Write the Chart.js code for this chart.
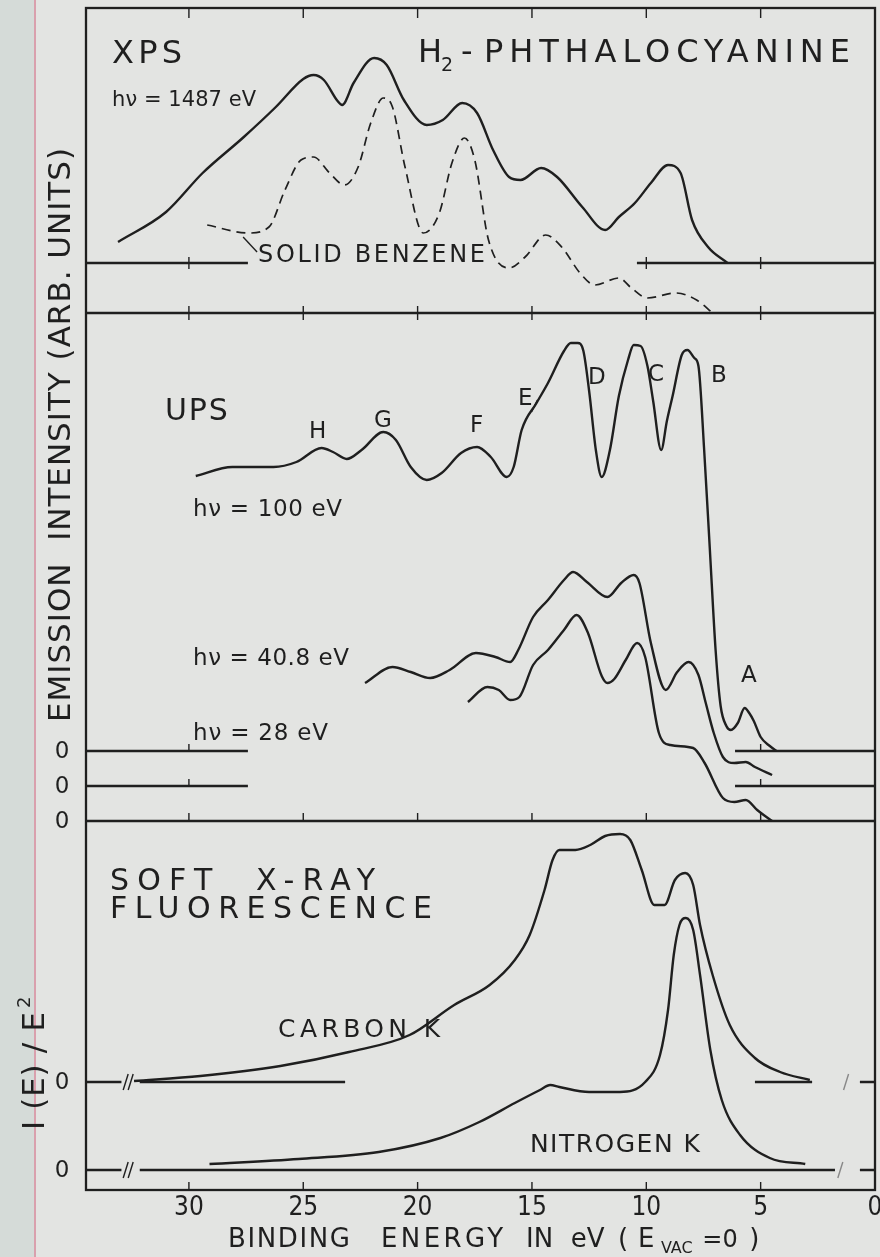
<!DOCTYPE html>
<html>
<head>
<meta charset="utf-8">
<script src="https://cdn.jsdelivr.net/npm/chart.js@4.4.1/dist/chart.umd.min.js"></script>
<style>
  html, body { margin: 0; padding: 0; background: #e3e4e2; }
  canvas { display: block; }
</style>
</head>
<body>
<canvas id="graphique" width="880" height="1257"></canvas>
<script>
// binding energy in eV, intensity in arb. units above each curve's own zero line
const xpsEnergy    = [33.1, 31.0, 29.4, 27.6, 26.2, 25.0, 24.55, 24.1, 23.5, 23.3, 22.8, 21.9, 21.35, 20.6, 19.6, 18.9, 18.05, 17.4, 16.7, 16.0, 15.5, 14.6, 13.9, 12.8, 11.8, 11.2, 10.5, 9.8, 9.05, 8.5, 8.0, 7.3, 6.45];
const xpsIntensity = [21, 51, 90, 126, 156, 184, 188, 183, 162, 158, 180, 205, 198, 163, 138, 143, 160, 150, 113, 86, 83, 95, 86, 56, 33, 46, 60, 80, 98, 90, 43, 16, 0];

const benzeneEnergy    = [29.2, 27.4, 26.5, 25.8, 25.1, 24.55, 23.85, 23.2, 22.6, 22.05, 21.5, 21.1, 20.55, 19.75, 19.05, 18.5, 17.95, 17.5, 16.9, 16.0, 15.3, 14.4, 13.7, 12.9, 12.25, 11.2, 10.65, 9.95, 8.7, 7.8, 7.1];
const benzeneIntensity = [88, 80, 86, 123, 153, 156, 140, 128, 146, 190, 215, 206, 146, 80, 100, 150, 175, 153, 73, 45, 56, 78, 66, 40, 28, 35, 25, 15, 20, 13, 0];

const ups100Energy    = [29.7, 28.1, 26.3, 25.3, 24.2, 23.7, 23.1, 22.45, 21.5, 20.95, 20.3, 19.6, 18.95, 18.1, 17.4, 16.8, 16.1, 15.8, 15.45, 14.8, 14.3, 13.6, 13.3, 13.0, 12.75, 12.5, 12.2, 11.95, 11.6, 11.2, 10.8, 10.55, 10.25, 9.95, 9.7, 9.35, 9.1, 8.85, 8.45, 8.2, 7.9, 7.72, 7.47, 7.22, 6.97, 6.75, 6.5, 6.3, 6.0, 5.7, 5.5, 5.3, 5.0, 4.6, 4.3];
const ups100Intensity = [275, 284, 284, 289, 303, 299, 292, 301, 319, 311, 284, 271, 278, 298, 304, 294, 274, 284, 321, 348, 368, 400, 408, 408, 400, 360, 300, 274, 300, 355, 391, 406, 405, 385, 350, 301, 330, 355, 396, 401, 393, 385, 301, 201, 101, 45, 25, 21, 28, 43, 38, 30, 14, 5, 0];

const ups408Energy    = [22.3, 21.1, 20.3, 19.45, 18.6, 17.45, 16.6, 15.95, 15.6, 14.95, 14.3, 13.6, 13.2, 12.6, 11.7, 11.1, 10.55, 10.3, 9.8, 9.15, 8.65, 8.15, 7.72, 7.4, 7.05, 6.65, 6.15, 5.65, 5.25, 4.5];
const ups408Intensity = [103, 119, 114, 108, 116, 133, 129, 124, 136, 169, 186, 206, 214, 204, 189, 203, 211, 203, 143, 96, 114, 124, 111, 83, 53, 29, 23, 24, 19, 11];

const ups28Energy    = [17.8, 16.95, 16.45, 15.95, 15.55, 14.95, 14.3, 13.6, 13.05, 12.55, 11.95, 11.7, 11.4, 10.9, 10.4, 10.05, 9.45, 8.95, 7.95, 7.45, 6.65, 6.15, 5.65, 5.15, 4.5];
const ups28Intensity = [119, 134, 131, 121, 124, 156, 171, 191, 206, 188, 145, 138, 142, 161, 178, 164, 88, 76, 73, 58, 23, 19, 21, 11, 0];

const carbonEnergy    = [32.4, 29.5, 26.0, 23.0, 20.35, 18.4, 16.85, 15.75, 15.1, 14.45, 14.1, 13.8, 13.1, 12.45, 11.8, 11.15, 10.7, 10.2, 9.65, 9.2, 8.75, 8.3, 7.95, 7.65, 7.1, 6.35, 5.25, 4.15, 2.85];
const carbonIntensity = [1, 6, 16, 30, 47, 77, 97, 122, 147, 192, 222, 232, 232, 237, 246, 248, 242, 212, 177, 177, 202, 209, 197, 157, 107, 57, 24, 10, 2];

const nitrogenEnergy    = [29.1, 25.2, 21.7, 19.0, 17.3, 15.75, 14.65, 14.2, 13.8, 12.5, 11.15, 10.05, 9.4, 9.05, 8.8, 8.55, 8.27, 7.95, 7.65, 7.2, 6.7, 5.9, 4.6, 3.05];
const nitrogenIntensity = [6, 11, 18, 32, 48, 67, 80, 85, 83, 78, 78, 88, 115, 160, 215, 245, 252, 240, 195, 120, 70, 35, 12, 6];

const tickValues = [30, 25, 20, 15, 10, 5, 0];

// where each curve's zero sits on the stacked intensity axis
const zero = { xps: 927, benzene: 877, ups100: 439, ups408: 404, ups28: 369, carbon: 108, nitrogen: 20 };

// drawn stretches of each zero line, in eV
const zeroStretches = [
  [zero.xps, 34.5, 27.42], [zero.xps, 10.41, 0],
  [zero.benzene, 34.5, 0],
  [zero.ups100, 34.5, 27.42], [zero.ups100, 6.12, 0],
  [zero.ups408, 34.5, 27.42], [zero.ups408, 6.12, 0],
  [zero.ups28, 34.5, 0],
  [zero.carbon, 34.5, 32.95], [zero.carbon, 32.15, 23.17], [zero.carbon, 5.25, 2.75], [zero.carbon, 0.66, 0],
  [zero.nitrogen, 34.5, 32.95], [zero.nitrogen, 32.15, 1.75], [zero.nitrogen, 0.66, 0]
];

const INK = '#1f1f1f';
const FONT = '"DejaVu Sans", sans-serif';

function curve(energy, intensity, base) {
  return energy.map((e, i) => ({ x: e, y: base + intensity[i] }));
}

function line(data, dashed, width) {
  return {
    data: data,
    showLine: true,
    borderColor: INK,
    borderWidth: width || 2.4,
    borderDash: dashed ? [9, 6] : [],
    pointRadius: 0,
    cubicInterpolationMode: 'monotone',
    fill: false
  };
}

const datasets = [
  line(curve(xpsEnergy, xpsIntensity, zero.xps)),
  line(curve(benzeneEnergy, benzeneIntensity, zero.benzene), true, 1.7),
  line(curve(ups100Energy, ups100Intensity, zero.ups100)),
  line(curve(ups408Energy, ups408Intensity, zero.ups408)),
  line(curve(ups28Energy, ups28Intensity, zero.ups28)),
  line(curve(carbonEnergy, carbonIntensity, zero.carbon)),
  line(curve(nitrogenEnergy, nitrogenIntensity, zero.nitrogen))
];
zeroStretches.forEach(s => {
  const d = line([{ x: s[1], y: s[0] }, { x: s[2], y: s[0] }], false, 2.5);
  d.cubicInterpolationMode = 'default';
  d.tension = 0;
  datasets.push(d);
});

// text placed in (eV, stacked-axis) coordinates; w = target width, 0 = natural
const labels = [
  { t: 'XPS', e: 33.36, v: 1127, s: 32, w: 70 },
  { t: 'hν = 1487 eV', e: 33.36, v: 1084, s: 21, w: 144 },
  { t: 'H', e: 19.98, v: 1128, s: 32, w: 0 },
  { t: '2', e: 18.98, v: 1119, s: 19, w: 0 },
  { t: '-', e: 18.1, v: 1128, s: 32, w: 0 },
  { t: 'PHTHALOCYANINE', e: 17.1, v: 1128, s: 32, w: 366 },
  { t: 'SOLID BENZENE', e: 26.98, v: 928, s: 24, w: 227 },
  { t: 'UPS', e: 31.05, v: 770, s: 30, w: 63 },
  { t: 'H', e: 24.75, v: 752, s: 23, w: 0 },
  { t: 'G', e: 21.91, v: 763, s: 23, w: 0 },
  { t: 'F', e: 17.71, v: 758, s: 23, w: 0 },
  { t: 'E', e: 15.61, v: 785, s: 23, w: 0 },
  { t: 'D', e: 12.55, v: 806, s: 23, w: 0 },
  { t: 'C', e: 9.93, v: 809, s: 23, w: 0 },
  { t: 'B', e: 7.17, v: 808, s: 23, w: 0 },
  { t: 'A', e: 5.86, v: 508, s: 23, w: 0 },
  { t: 'hν = 100 eV', e: 29.82, v: 674, s: 23, w: 149 },
  { t: 'hν = 40.8 eV', e: 29.82, v: 525, s: 23, w: 156 },
  { t: 'hν = 28 eV', e: 29.82, v: 450, s: 23, w: 135 },
  { t: 'SOFT  X-RAY', e: 33.45, v: 300, s: 30, w: 265 },
  { t: 'FLUORESCENCE', e: 33.45, v: 272, s: 30, w: 322 },
  { t: 'CARBON K', e: 26.1, v: 153, s: 25, w: 162 },
  { t: 'NITROGEN K', e: 15.09, v: 38, s: 25, w: 170 },
  { t: 'BINDING', e: 28.29, v: -57, s: 26, w: 122 },
  { t: 'ENERGY', e: 21.6, v: -57, s: 26, w: 122 },
  { t: 'IN', e: 15.26, v: -57, s: 26, w: 0 },
  { t: 'eV', e: 13.3, v: -57, s: 26, w: 0 },
  { t: '(', e: 11.24, v: -57, s: 26, w: 0 },
  { t: 'E', e: 10.36, v: -57, s: 26, w: 0 },
  { t: 'VAC', e: 9.36, v: -63, s: 16, w: 0 },
  { t: '=0', e: 7.55, v: -57, s: 24, w: 0 },
  { t: ')', e: 5.5, v: -57, s: 26, w: 0 }
];

function fitText(c, str, x, y, size, width) {
  c.font = size + 'px ' + FONT;
  c.letterSpacing = '0px';
  if (width && str.length > 1) {
    const w = c.measureText(str).width;
    c.letterSpacing = ((width - w) / (str.length - 1)) + 'px';
  }
  c.fillText(str, x, y);
  c.letterSpacing = '0px';
}

const paper = {
  id: 'paper',
  beforeDraw(chart) {
    const c = chart.ctx, a = chart.chartArea;
    const X = chart.scales.x, Y = chart.scales.y;
    c.save();
    c.fillStyle = '#e3e4e2';
    c.fillRect(0, 0, chart.width, chart.height);
    c.fillStyle = '#d5dbd8';
    c.fillRect(0, 0, 34, chart.height);
    c.fillStyle = '#d9a0ad';
    c.fillRect(34, 0, 2, chart.height);

    c.strokeStyle = INK;
    c.lineWidth = 2.3;
    c.strokeRect(a.left, a.top, a.right - a.left, a.bottom - a.top);

    c.lineWidth = 1.4;
    const tick = (e, v, up, down) => {
      const x = X.getPixelForValue(e), y = Y.getPixelForValue(v);
      c.beginPath(); c.moveTo(x, y - up); c.lineTo(x, y + down); c.stroke();
    };
    tickValues.filter(t => t > 0).forEach(t => {
      tick(t, Y.max, 0, 10);
      tick(t, zero.benzene, 7, 7);
      tick(t, zero.ups28, 8, 0);
      tick(t, Y.min, 8, 0);
    });
    [30, 10, 5].forEach(t => tick(t, zero.xps, 6, 6));
    [30, 5].forEach(t => { tick(t, zero.ups100, 7, 0); tick(t, zero.ups408, 7, 0); });

    // axis breaks on the fluorescence zero lines
    const brk = (e, v, n) => {
      const x = X.getPixelForValue(e), y = Y.getPixelForValue(v);
      for (let k = 0; k < n; k++) {
        c.beginPath(); c.moveTo(x - 4 + k * 5, y + 8); c.lineTo(x + 1 + k * 5, y - 8); c.stroke();
      }
    };
    brk(32.7, zero.carbon, 2);
    brk(32.7, zero.nitrogen, 2);
    c.strokeStyle = '#888';
    brk(1.2, zero.carbon, 1);
    brk(1.45, zero.nitrogen, 1);
    c.restore();
  },
  afterDatasetsDraw(chart) {
    const c = chart.ctx, a = chart.chartArea;
    const X = chart.scales.x, Y = chart.scales.y;
    c.save();
    c.fillStyle = INK;
    c.strokeStyle = INK;
    c.textAlign = 'left';
    c.textBaseline = 'alphabetic';
    labels.forEach(l => fitText(c, l.t, X.getPixelForValue(l.e), Y.getPixelForValue(l.v), l.s, l.w));

    // short leader strokes
    c.lineWidth = 1.4;
    [[27.63, 953, 27.02, 938], [15.02, 778, 14.76, 790]].forEach(p => {
      c.beginPath();
      c.moveTo(X.getPixelForValue(p[0]), Y.getPixelForValue(p[1]));
      c.lineTo(X.getPixelForValue(p[2]), Y.getPixelForValue(p[3]));
      c.stroke();
    });

    // zero markers on the left
    c.textAlign = 'center';
    c.textBaseline = 'middle';
    c.font = '23px ' + FONT;
    [zero.ups100, zero.ups408, zero.ups28, zero.carbon, zero.nitrogen].forEach(v => {
      c.fillText('0', a.left - 24, Y.getPixelForValue(v) + 1);
    });

    // rotated axis titles
    c.textAlign = 'left';
    c.textBaseline = 'alphabetic';
    c.save();
    c.translate(a.left - 16, 435);
    c.rotate(-Math.PI / 2);
    fitText(c, 'EMISSION  INTENSITY (ARB. UNITS)', -287, 0, 31, 574);
    c.restore();

    c.save();
    c.translate(a.left - 42, 1060);
    c.rotate(-Math.PI / 2);
    fitText(c, 'I (E) / E', -70, 0, 31, 118);
    fitText(c, '2', 52, -14, 18, 0);
    c.restore();
    c.restore();
  }
};

new Chart(document.getElementById('graphique'), {
  type: 'scatter',
  data: { datasets: datasets },
  options: {
    responsive: false,
    animation: false,
    devicePixelRatio: 1,
    layout: { padding: { left: 86, right: 5, top: 8, bottom: 0 } },
    plugins: { legend: { display: false }, tooltip: { enabled: false } },
    scales: {
      x: {
        type: 'linear',
        reverse: true,
        min: 0,
        max: 34.5,
        grid: { display: false, drawTicks: false },
        border: { display: false },
        ticks: {
          stepSize: 5,
          padding: 3,
          color: INK,
          font: { size: 26, family: '"DejaVu Sans Condensed", "DejaVu Sans", sans-serif' },
          maxRotation: 0,
          autoSkip: false,
          callback: v => (v % 5 === 0 ? String(v) : '')
        },
        afterFit: s => { s.height = 67; s.paddingLeft = 0; s.paddingRight = 0; }
      },
      y: { display: false, min: 0, max: 1182 }
    }
  },
  plugins: [paper]
});
</script>
</body>
</html>
